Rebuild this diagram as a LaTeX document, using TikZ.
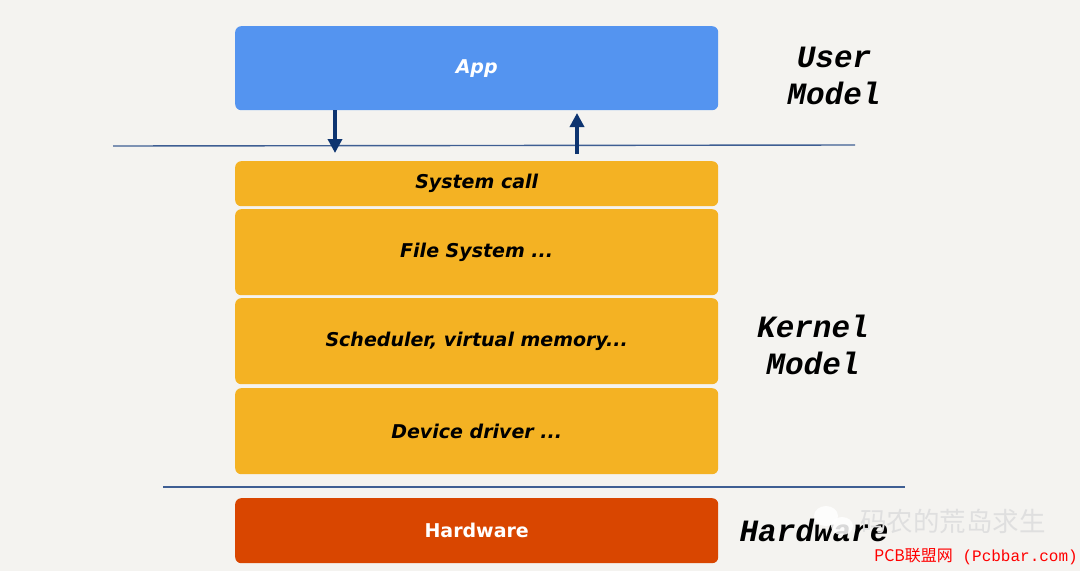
\documentclass[tikz,border=0pt]{standalone}
\usepackage{fontspec}
\setmainfont{Liberation Sans}
\newfontfamily\boxfont{DejaVu Sans}
\newfontfamily\labfont{Liberation Mono}
\newfontfamily\cjkfont{Noto Sans CJK SC}
\usetikzlibrary{arrows.meta}
\definecolor{bg}{HTML}{F4F3F0}
\definecolor{appblue}{HTML}{5494F0}
\definecolor{kyellow}{HTML}{F4B223}
\definecolor{hwred}{HTML}{D94600}
\definecolor{navy}{HTML}{0D3470}
\definecolor{sep}{HTML}{3E5E93}
\tikzset{
  layer/.style={rounded corners=6pt, inner sep=0pt, anchor=north west},
  boxtext/.style={font=\boxfont\bfseries\itshape\fontsize{19}{22}\selectfont},
  sidelabel/.style={font=\labfont\bfseries\itshape\fontsize{31}{37}\selectfont, align=center, text=black},
  sepline/.style={draw=sep, line width=1.4pt},
  callarrow/.style={draw=navy, line width=3.4pt, -{Triangle[length=14pt,width=14pt]}}
}
\begin{document}
\begin{tikzpicture}[x=1pt,y=-1pt]
\fill[bg] (0,0) rectangle (1080,571);
\useasboundingbox (0,0) rectangle (1080,571);
% boxes
\node[layer, fill=appblue, minimum width=483pt, minimum height=84pt] (app) at (235,26) {};
\node[boxtext, text=white] at (app.center) {App};
\node[layer, fill=kyellow, minimum width=483pt, minimum height=45pt] (sys) at (235,161) {};
\node[boxtext] at (sys.center) {System call};
\node[layer, fill=kyellow, minimum width=483pt, minimum height=86pt] (fs) at (235,209) {};
\node[boxtext] at (fs.center) {File System ...};
\node[layer, fill=kyellow, minimum width=483pt, minimum height=86pt] (sch) at (235,298) {};
\node[boxtext] at (sch.center) {Scheduler, virtual memory...};
\node[layer, fill=kyellow, minimum width=483pt, minimum height=86pt] (dev) at (235,388) {};
\node[boxtext] at (dev.center) {Device driver ...};
\node[layer, fill=hwred, minimum width=483pt, minimum height=65pt] (hw) at (235,498) {};
\node[boxtext, font=\boxfont\bfseries\fontsize{19}{22}\selectfont, text=white] at (hw.center) {Hardware};
% separator lines
\coordinate (l1a) at (113,146);
\coordinate (l1b) at (855,145);
\coordinate (l2a) at (163,487);
\coordinate (l2b) at (905,487);
\draw[sepline] (l1a) -- (l1b);
\draw[sepline] (l2a) -- (l2b);
% arrows
\coordinate (dstart) at (335,110);
\coordinate (dend) at (335,153);
\coordinate (ustart) at (577,154);
\coordinate (uend) at (577,113);
\draw[callarrow] (dstart) -- (dend);
\draw[callarrow] (ustart) -- (uend);
% side labels
\node[sidelabel] (user) at (834,76) {User\\Model};
\node[sidelabel] (kernel) at (813,345) {Kernel\\Model};
\node[sidelabel] (hwl) at (814,530) {Hardware};
% watermark
\fill[white, opacity=0.85] (826,516) ellipse (12pt and 10pt);
\fill[white, opacity=0.85] (842,526) ellipse (11pt and 9pt);
\node[font=\cjkfont\fontsize{26.5}{30}\selectfont, text=white!75!gray, anchor=west, inner sep=0pt] (wm) at (860,521) {码农的荒岛求生};
\node[text=red, anchor=east, inner sep=0pt] (pcb) at (1078,557) {\cjkfont\fontsize{16}{19}\selectfont PCB联盟网\labfont\fontsize{16}{19}\selectfont{} (Pcbbar.com)};
\end{tikzpicture}
\end{document}
